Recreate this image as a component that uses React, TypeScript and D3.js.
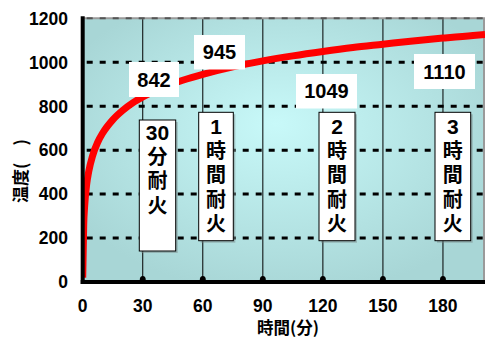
import React from "react";
import * as d3 from "d3";

// Time (min) and temperature (°C)
const times = [0, 0.5, 1, 2, 3, 5, 7.5, 10, 15, 20, 25, 30, 40, 50, 60, 75, 90, 105, 120, 135, 150, 165, 180, 195, 201];
const temps = [20, 261, 349, 445, 502, 576, 636, 678, 738, 781, 815, 842, 885, 918, 945, 979, 1006, 1029, 1049, 1067, 1082, 1097, 1110, 1122, 1126];

const xTicks = [0, 30, 60, 90, 120, 150, 180];
const yTicks = [0, 200, 400, 600, 800, 1000, 1200];
const vLines = [30, 60, 90, 120, 150, 180];

// Value callouts
const valueLabels = ["842", "945", "1049", "1110"];
const valueTimes = [30, 60, 120, 180];
// Fire-resistance callouts (vertical text)
const fireLabels = [["30", "分", "耐", "火"], ["1", "時", "間", "耐", "火"], ["2", "時", "間", "耐", "火"], ["3", "時", "間", "耐", "火"]];
const fireTimes = [30, 60, 120, 180];

const xTitle = "時間(分)";
const yTitle = "温度(　)";

// layout (pixels)
const W = 487, H = 340;
const left = 82.7, right = 485, top = 18.3, bottom = 282;
const valueBoxes = [
  { x0: 129, x1: 179, y0: 62, y1: 97 },
  { x0: 194, x1: 245, y0: 35, y1: 69.5 },
  { x0: 296, x1: 357, y0: 74, y1: 108.5 },
  { x0: 414, x1: 475, y0: 54, y1: 89 },
];
const fireBoxes = [
  { x0: 139.3, x1: 175.7, y0: 120, y1: 251, t0: 132 },
  { x0: 198.7, x1: 233.3, y0: 112.3, y1: 240.7, t0: 126 },
  { x0: 319, x1: 355, y0: 112.3, y1: 240.7, t0: 126 },
  { x0: 435, x1: 470.7, y0: 112.3, y1: 240.7, t0: 126 },
];

const LAT = "'Liberation Sans', Arial, sans-serif";
const CJK = "'Noto Sans CJK JP', 'Liberation Sans', sans-serif";

export default function App() {
  const x = d3.scaleLinear().domain([0, 201]).range([left, right]);
  const y = d3.scaleLinear().domain([0, 1200]).range([bottom, top]);
  const pts = times.map((t, i) => [t, temps[i]] as [number, number]);
  const line = d3.line<[number, number]>().x(d => x(d[0])).y(d => y(d[1])).curve(d3.curveMonotoneX);

  return (
    <div style={{ position: "absolute", left: 0, top: 0 }}>
      <svg width={W} height={H} style={{ display: "block", background: "#fff" }}>
        <defs>
          <radialGradient id="bg" cx="0.5" cy="0.45" r="0.6" fx="0.48" fy="0.4">
            <stop offset="0" stopColor="#c8f9f9" />
            <stop offset="1" stopColor="#a8d6d6" />
          </radialGradient>
          <clipPath id="plot">
            <rect x={left} y={top} width={right - left} height={bottom - top} />
          </clipPath>
        </defs>
        <rect x={left} y={top} width={right - left} height={bottom - top} fill="url(#bg)" />
        {/* vertical lines */}
        {vLines.map(v => (
          <line key={"v" + v} x1={x(v)} x2={x(v)} y1={top} y2={bottom} stroke="#000" strokeWidth={1} />
        ))}
        {/* horizontal dashed grid */}
        {yTicks.filter(v => v > 0 && v < 1200).map(v => (
          <line key={"h" + v} x1={left} x2={right} y1={y(v)} y2={y(v)} stroke="#000" strokeWidth={3} strokeDasharray="6 7" strokeDashoffset={-4} />
        ))}
        {/* top border */}
        <line x1={left} x2={right} y1={y(1200)} y2={y(1200)} stroke="#9a9a9a" strokeWidth={2} />
        <line x1={left} x2={right} y1={y(1200)} y2={y(1200)} stroke="#555" strokeWidth={2} strokeDasharray="6 7" strokeDashoffset={-4} />
        {/* right border */}
        <line x1={right - 1} x2={right - 1} y1={top} y2={bottom} stroke="#9a9a9a" strokeWidth={2} />
        {/* curve */}
        <path d={line(pts) || ""} fill="none" stroke="#ff0000" strokeWidth={7} clipPath="url(#plot)" />
        {/* axes */}
        <line x1={left} x2={left} y1={top - 2} y2={bottom + 2} stroke="#000" strokeWidth={4} />
        <line x1={left - 2} x2={right} y1={bottom} y2={bottom} stroke="#000" strokeWidth={4} />
        {vLines.map(v => (
          <ellipse key={"d" + v} cx={x(v)} cy={bottom - 2} rx={3} ry={4} fill="#000" />
        ))}
        {/* tick labels */}
        {yTicks.map(v => (
          <text key={"yt" + v} x={68} y={y(v)} dy="0.36em" textAnchor="end" fontFamily={LAT} fontWeight="bold" fontSize={17.5} fill="#000">{v}</text>
        ))}
        {xTicks.map(v => (
          <text key={"xt" + v} x={x(v)} y={306} dy="0.36em" textAnchor="middle" fontFamily={LAT} fontWeight="bold" fontSize={17.5} fill="#000">{v}</text>
        ))}
        <text x={288} y={328} dy="0.36em" textAnchor="middle" fontFamily={CJK} fontWeight="bold" fontSize={16.5} fill="#000">{xTitle}</text>
        <text transform={`translate(21,171) rotate(-90)`} textAnchor="middle" dy="0.36em" fontFamily={CJK} fontWeight="bold" fontSize={17} fill="#000">{yTitle}</text>
        {/* value callouts */}
        {valueLabels.map((s, i) => {
          const b = valueBoxes[i];
          return (
            <g key={"vl" + i} data-time={valueTimes[i]}>
              <rect x={b.x0} y={b.y0} width={b.x1 - b.x0} height={b.y1 - b.y0} fill="#fff" />
              <text x={(b.x0 + b.x1) / 2} y={(b.y0 + b.y1) / 2} dy="0.36em" textAnchor="middle" fontFamily={LAT} fontWeight="bold" fontSize={20} fill="#000">{s}</text>
            </g>
          );
        })}
        {/* fire-resistance callouts */}
        {fireLabels.map((lines, i) => {
          const b = fireBoxes[i];
          const cx = (b.x0 + b.x1) / 2;
          return (
            <g key={"fl" + i} data-time={fireTimes[i]}>
              <rect x={b.x0 + 2} y={b.y0 + 2} width={b.x1 - b.x0} height={b.y1 - b.y0} fill="#7a8a8a" opacity={0.5} />
              <rect x={b.x0} y={b.y0} width={b.x1 - b.x0} height={b.y1 - b.y0} fill="#fff" stroke="#000" strokeWidth={1} />
              <text textAnchor="middle" fontWeight="bold" fill="#000">
                {lines.map((c, j) => {
                  const isNum = /[0-9]/.test(c);
                  return (
                    <tspan key={j} x={cx} y={b.t0 + j * 24.5 + (isNum ? 7.5 : 7)}
                      fontFamily={isNum ? LAT : CJK} fontSize={isNum ? 21 : 20}>{c}</tspan>
                  );
                })}
              </text>
            </g>
          );
        })}
      </svg>
    </div>
  );
}
